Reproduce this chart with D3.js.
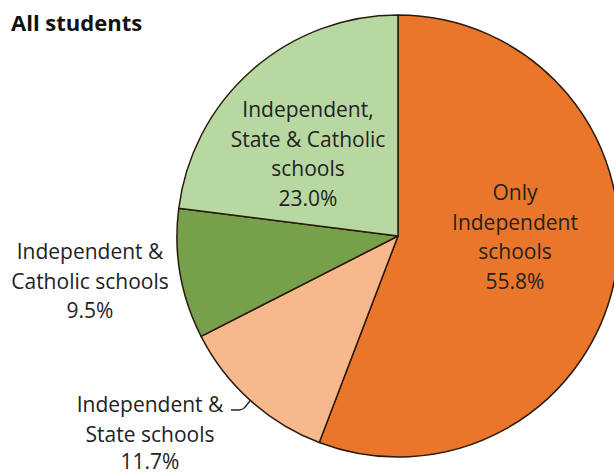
<!DOCTYPE html>
<html>
<head>
<meta charset="utf-8">
<script src="https://cdn.jsdelivr.net/npm/d3@7/dist/d3.min.js"></script>
<style>
  body { margin: 0; background: #fff; }
  text { font-family: "Open Sans", "Noto Sans", sans-serif; fill: #222; }
</style>
</head>
<body>
<svg id="chart" width="614" height="476"></svg>
<script>
// Data
var categories = ["Only Independent schools", "Independent & State schools", "Independent & Catholic schools", "Independent, State & Catholic schools"];
var values = [55.8, 11.7, 9.5, 23.0];
var labelLines = [
  ["Only", "Independent", "schools"],
  ["Independent &", "State schools"],
  ["Independent &", "Catholic schools"],
  ["Independent,", "State & Catholic", "schools"]
];
var colors = ["#e9762a", "#f7b88c", "#77a04b", "#b8d8a2"];

var width = 614, height = 476,
    cx = 398, cy = 236, radius = 221;

var svg = d3.select("#chart");

svg.append("text")
  .attr("x", 11)
  .attr("y", 31)
  .style("font-weight", "bold")
  .style("font-size", "22px")
  .style("fill", "#111")
  .text("All students");

var pie = d3.pie().sort(null).value(function (d) { return d; });
var arc = d3.arc().innerRadius(0).outerRadius(radius);
var arcs = pie(values);

var g = svg.append("g").attr("transform", "translate(" + cx + "," + cy + ")");

g.selectAll("path.slice")
  .data(arcs)
  .enter().append("path")
  .classed("slice", true)
  .attr("d", arc)
  .attr("fill", function (d, i) { return colors[i]; })
  .attr("stroke", "#2b1a0c")
  .attr("stroke-width", 1.5)
  .attr("stroke-linejoin", "round");

// label anchors (centre of first line), outside labels for the small slices
var labelPos = [
  [515, 193],
  [150, 405],
  [90, 252],
  [308, 110]
];
var lineH = 29.5;

labelLines.forEach(function (lines, i) {
  var t = svg.append("text")
    .attr("text-anchor", "middle")
    .style("font-size", "21px");
  var all = lines.concat([values[i].toFixed(1) + "%"]);
  all.forEach(function (s, k) {
    // last line of the bottom label sits a touch tighter so it stays in frame
    var y = labelPos[i][1] + k * lineH - (i === 1 && k === 2 ? 2 : 0);
    t.append("tspan")
      .attr("x", labelPos[i][0])
      .attr("y", y)
      .attr("dy", "0.35em")
      .text(s);
  });
});

// leader for the "Independent & State" label, ends on the rim at mid-angle
var a = (arcs[1].startAngle + arcs[1].endAngle) / 2;
var ex = cx + Math.sin(a) * radius, ey = cy - Math.cos(a) * radius;
svg.append("path")
  .attr("d", d3.line().curve(d3.curveBasis)([[231, 410], [240, 410], [243, 410], [ex, ey]]))
  .attr("fill", "none")
  .attr("stroke", "#222")
  .attr("stroke-width", 1.3);
</script>
</body>
</html>
